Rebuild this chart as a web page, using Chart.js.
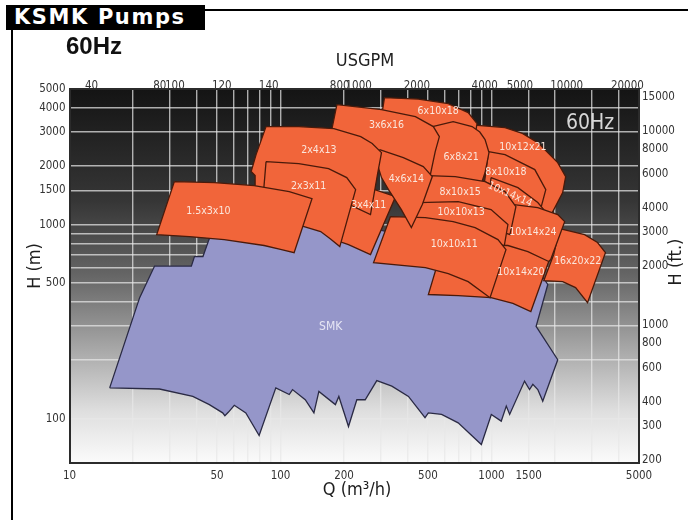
<!DOCTYPE html>
<html>
<head>
<meta charset="utf-8">
<script src="https://cdn.jsdelivr.net/npm/chart.js@4.4.1/dist/chart.umd.min.js"></script>
<style>
html,body{margin:0;padding:0;background:#fff;width:691px;height:520px;overflow:hidden;}
#wrap{position:absolute;left:0;top:0;width:691px;height:520px;}
canvas{position:absolute;left:0;top:0;}
.hdr{position:absolute;left:6px;top:5px;width:199px;height:25px;background:#000;color:#fff;
 font:bold 21px 'DejaVu Sans',sans-serif;line-height:25px;padding-left:8px;box-sizing:border-box;letter-spacing:1.6px;white-space:nowrap;}
.hz{position:absolute;left:66px;top:32px;font:bold 24px 'Liberation Sans',Arial,sans-serif;color:#111;}
.fl{position:absolute;left:11px;top:30px;width:2px;height:490px;background:#000;}
.ft{position:absolute;left:205px;top:9px;width:483px;height:2px;background:#000;}
</style>
</head>
<body>
<div id="wrap">
<canvas id="c" width="691" height="520"></canvas>
<div class="fl"></div><div class="ft"></div>
<div class="hdr">KSMK Pumps</div>
<div class="hz">60Hz</div>
</div>
<script>
// ---------- axis ticks ----------
const qTickLabels = [10, 50, 100, 200, 500, 1000, 1500, 5000];            // Q (m3/h)
const qGridLines  = [10,20,30,40,50,60,70,80,90,100,200,300,400,500,600,700,800,900,1000,1500,2000,3000,4000,5000];
const hTickLabels = [100, 500, 1000, 1500, 2000, 3000, 4000, 5000];        // H (m)
const hGridLines  = [100,200,300,400,500,600,700,800,900,1000,1500,2000,3000,4000,5000];
const ftTickLabels = [200,300,400,600,800,1000,2000,3000,4000,6000,8000,10000,15000]; // H (ft)
const usgpmLabels   = ['40','80','100','120','140','800','1000','2000','4000','5000','10000','20000'];
const usgpmLabelPos = [56,118,139,232,387,840,1033,1950,4090,6000,10000,19400]; // USGPM where each label sits

// ---------- pump coverage areas: [Q m3/h, H m] ----------
const p1_5x3x10 = [[31.4,1666],[48.6,1647],[75,1589],[110,1479],[141,1361],[116,717],[100,745],[83.6,780],[54.1,837],[37,867],[25.9,888]];
const p2x3x11   = [[85.4,2112],[122,2062],[169,1944],[206,1747],[227,1515],[191,770],[172,845],[155,920],[116,1012],[81,1061]];
const p2x4x13   = [[85.4,3200],[122,3200],[179,3125],[240,2842],[272,2620],[301,2350],[288,1810],[267,1126],[189,1345],[122,1515],[75.8,1428],[75.8,1789],[72.6,1876],[76.6,2295]];
const p3x4x11   = [[189,1706],[262,1551],[351,1394],[267,700],[210,789],[179,837]];
const p4x6x14   = [[295,2436],[382,2215],[475,1991],[524,1768],[470,1268],[417,965],[374,1195],[325,1515],[301,1747],[288,2039]];
const p3x6x16   = [[185,4156],[301,3916],[436,3604],[530,3201],[566,2842],[541,2378],[513,1810],[450,1515],[292,2163],[175,3088]];
const p6x10x18  = [[311,4513],[450,4435],[624,4205],[775,3779],[854,3316],[792,2039],[502,2436],[292,2910]];
const p6x8x21   = [[502,3162],[658,3395],[809,3201],[880,3000],[932,2742],[973,2350],[932,1854],[892,1608],[658,1608],[475,1810]];
const p8x10x15  = [[502,1789],[673,1768],[932,1666],[1158,1479],[1305,1238],[1223,888],[775,1061],[450,1268]];
const p10x10x13 = [[450,1299],[695,1314],[995,1195],[1196,1000],[1146,761],[775,920],[362,1000]];
const p10x10x11 = [[332,1100],[486,1087],[658,1036],[836,965],[1073,837],[1171,743],[984,420],[775,508],[624,559],[486,600],[276,637]];
const p10x14x20 = [[818,789],[1196,780],[1487,726],[1867,645],[1536,356],[1263,392],[995,420],[695,430],[502,436],[559,645]];
const p10x14x24 = [[1073,1299],[1657,1224],[2059,1126],[2222,1036],[1908,660],[1657,572],[1416,676],[1016,837]];
const p16x20x22 = [[2104,954],[2761,888],[3180,808],[3467,717],[2852,396],[2503,473],[2174,508],[1769,514],[1971,700]];
const p10x14x14 = [[995,1747],[1334,1551],[1657,1299],[1769,1195],[1712,1000],[1263,1126],[968,1345]];
const p8x10x18  = [[968,2378],[1159,2295],[1604,1921],[1808,1515],[1721,1238],[1263,1428],[927,1666]];
const p10x12x21 = [[775,3277],[1158,3162],[1400,2950],[1657,2647],[2059,2087],[2246,1768],[2174,1462],[1919,1126],[1334,1345],[864,1921]];
const smkArea   = [[15.5,144],[26.7,142],[38.4,130],[46,118],[53.2,107],[54.5,103.5],[56.7,108],[60.4,117],[68.5,107],[79.2,81.7],
  [95,144],[110,133],[114,141],[131,125],[144,107],[152,138],[182,118],[189,130],[210,91],[230,125],[252,125],[286,157],
  [337,147],[404,130],[484,101],[502,107],[580,105],[695,95],[895,73.5],[998,105],[1112,97],[1175,116],[1219,105],
  [1434,156],[1514,141],[1570,150],[1657,141],[1749,123],[2060,201],[1627,299],[1848,491],
  [1657,586],[1073,552],[450,837],[235,1000],[169,1126],[110,942],[48.6,942],
  [45.8,837],[42.9,684],[39.1,684],[37.8,611],[25.3,611],[21.5,420]];

// front-most first
const pumpNames = ['1.5x3x10','2x3x11','2x4x13','4x6x14','3x4x11','3x6x16','10x10x11','10x14x20','10x10x13','8x10x15',
  '6x8x21','6x10x18','10x14x24','16x20x22','10x14x14','8x10x18','10x12x21'];
const pumpAreas = [p1_5x3x10,p2x3x11,p2x4x13,p4x6x14,p3x4x11,p3x6x16,p10x10x11,p10x14x20,p10x10x13,p8x10x15,
  p6x8x21,p6x10x18,p10x14x24,p16x20x22,p10x14x14,p8x10x18,p10x12x21];
// label anchor [name, Q, H, rotationDeg]
const pumpLabels = [['1.5x3x10',45.5,1167,0],['2x3x11',136,1570,0],['2x4x13',152,2407,0],['3x4x11',262,1253,0],
  ['4x6x14',395,1706,0],['3x6x16',318,3238,0],['6x10x18',559,3824,0],['6x8x21',718,2215,0],['10x12x21',1408,2495,0],
  ['8x10x18',1171,1854,0],['10x14x14',1223,1428,24],['8x10x15',710,1462,0],['10x10x13',718,1153,0],['10x10x11',666,789,0],
  ['10x14x24',1570,910,0],['10x14x20',1378,566,0],['16x20x22',2559,645,0],['SMK',173,298,0]];

const FONT = "'DejaVu Sans Condensed','DejaVu Sans',sans-serif";
const ORANGE = '#F1653A', ORANGE_EDGE = '#4a1a0a', PURPLE = '#9596C9', PURPLE_EDGE = '#2a2a44';
const M2FT = 3.28084, M3H2GPM = 4.40287;

const toPts = a => a.concat([a[0]]).map(([x, y]) => ({x, y}));
const datasets = pumpAreas.map((a, i) => ({
  label: pumpNames[i], data: toPts(a), xAxisID: 'x', yAxisID: 'y',
  fill: 'shape', backgroundColor: ORANGE, borderColor: ORANGE_EDGE, borderWidth: 1.3,
  pointRadius: 0, tension: 0
}));
datasets.push({label: 'SMK', data: toPts(smkArea), xAxisID: 'x', yAxisID: 'y',
  fill: 'shape', backgroundColor: PURPLE, borderColor: PURPLE_EDGE, borderWidth: 1.3, pointRadius: 0, tension: 0});

const bgPlugin = {
  id: 'bg',
  beforeDraw(chart) {
    const {ctx, chartArea: a} = chart;
    const g = ctx.createLinearGradient(0, a.top, 0, a.bottom);
    g.addColorStop(0, '#141414'); g.addColorStop(0.3, '#363636'); g.addColorStop(0.5, '#666');
    g.addColorStop(0.7, '#a9a9a9'); g.addColorStop(0.86, '#dedede'); g.addColorStop(1, '#fbfbfb');
    ctx.save(); ctx.fillStyle = g; ctx.fillRect(a.left, a.top, a.right - a.left, a.bottom - a.top); ctx.restore();
  }
};
const textPlugin = {
  id: 'texts',
  afterDatasetsDraw(chart) {
    const {ctx, chartArea: a} = chart, xs = chart.scales.x, ys = chart.scales.y;
    ctx.save();
    pumpLabels.forEach(([t, q, h, r]) => {
      ctx.save();
      ctx.translate(xs.getPixelForValue(q), ys.getPixelForValue(h));
      ctx.rotate(r * Math.PI / 180);
      ctx.font = (t === 'SMK' ? '12px ' : '10.5px ') + FONT;
      ctx.fillStyle = t === 'SMK' ? '#e6e6f4' : '#fbe6dc';
      ctx.textAlign = 'center'; ctx.textBaseline = 'middle';
      ctx.fillText(t, 0, 0);
      ctx.restore();
    });
    ctx.font = '21px ' + FONT; ctx.fillStyle = '#d8d8d8'; ctx.textAlign = 'center'; ctx.textBaseline = 'middle';
    ctx.fillText('60Hz', a.right - 49, a.top + 35);
    ctx.restore();
  },
  afterDraw(chart) {
    const ctx = chart.ctx;
    ctx.save();
    ctx.fillStyle = '#1e1e1e'; ctx.textAlign = 'center'; ctx.textBaseline = 'middle';
    ctx.font = '18px ' + FONT;
    ctx.fillText('USGPM', 365, 61);
    ctx.fillText('Q (m³/h)', 357, 490);
    ctx.save(); ctx.translate(35, 266); ctx.rotate(-Math.PI / 2); ctx.fillText('H (m)', 0, 0); ctx.restore();
    ctx.save(); ctx.translate(676, 262); ctx.rotate(-Math.PI / 2); ctx.fillText('H (ft.)', 0, 0); ctx.restore();
    ctx.restore();
  }
};

const tickFont = {family: FONT, size: 11.5};
const gridStyle = {color: 'rgba(232,232,232,0.72)', lineWidth: 1.4, drawTicks: false};
const borderStyle = {display: true, color: '#2b2b2b', width: 2};

new Chart(document.getElementById('c'), {
  type: 'line',
  data: {datasets},
  plugins: [bgPlugin, textPlugin],
  options: {
    responsive: false, animation: false, devicePixelRatio: 1,
    layout: {padding: {left: 20, right: 0, top: 40, bottom: 20}},
    plugins: {legend: {display: false}, tooltip: {enabled: false}},
    elements: {line: {borderJoinStyle: 'miter'}},
    scales: {
      x: {type: 'logarithmic', position: 'bottom', min: 10, max: 5000,
        afterBuildTicks: s => { s.ticks = qGridLines.map(v => ({value: v})); },
        afterFit: s => { s.height = 37; },
        ticks: {autoSkip: false, maxRotation: 0, padding: 6, color: '#333', font: tickFont,
          callback: v => qTickLabels.includes(v) ? String(v) : ''},
        grid: gridStyle, border: borderStyle},
      xTop: {type: 'logarithmic', position: 'top', min: 10 * M3H2GPM, max: 5000 * M3H2GPM,
        afterBuildTicks: s => { s.ticks = usgpmLabelPos.map(v => ({value: v})); },
        afterFit: s => { s.height = 49; },
        ticks: {autoSkip: false, maxRotation: 0, padding: -4, color: '#333', font: tickFont,
          callback: (v, i) => usgpmLabels[i]},
        grid: {display: false, drawTicks: false}, border: borderStyle},
      y: {type: 'logarithmic', position: 'left', min: 59, max: 5000,
        afterBuildTicks: s => { s.ticks = hGridLines.map(v => ({value: v})); },
        afterFit: s => { s.width = 49.5; },
        ticks: {autoSkip: false, padding: 4, color: '#333', font: tickFont,
          callback: v => hTickLabels.includes(v) ? String(v) : ''},
        grid: gridStyle, border: borderStyle},
      yFt: {type: 'logarithmic', position: 'right', min: 59 * M2FT, max: 5000 * M2FT,
        afterBuildTicks: s => { s.ticks = ftTickLabels.map(v => ({value: v})); },
        afterFit: s => { s.width = 52; },
        ticks: {autoSkip: false, padding: 3, color: '#333', font: tickFont, callback: v => String(v)},
        grid: {display: false, drawTicks: false}, border: borderStyle}
    }
  }
});
</script>
</body>
</html>
